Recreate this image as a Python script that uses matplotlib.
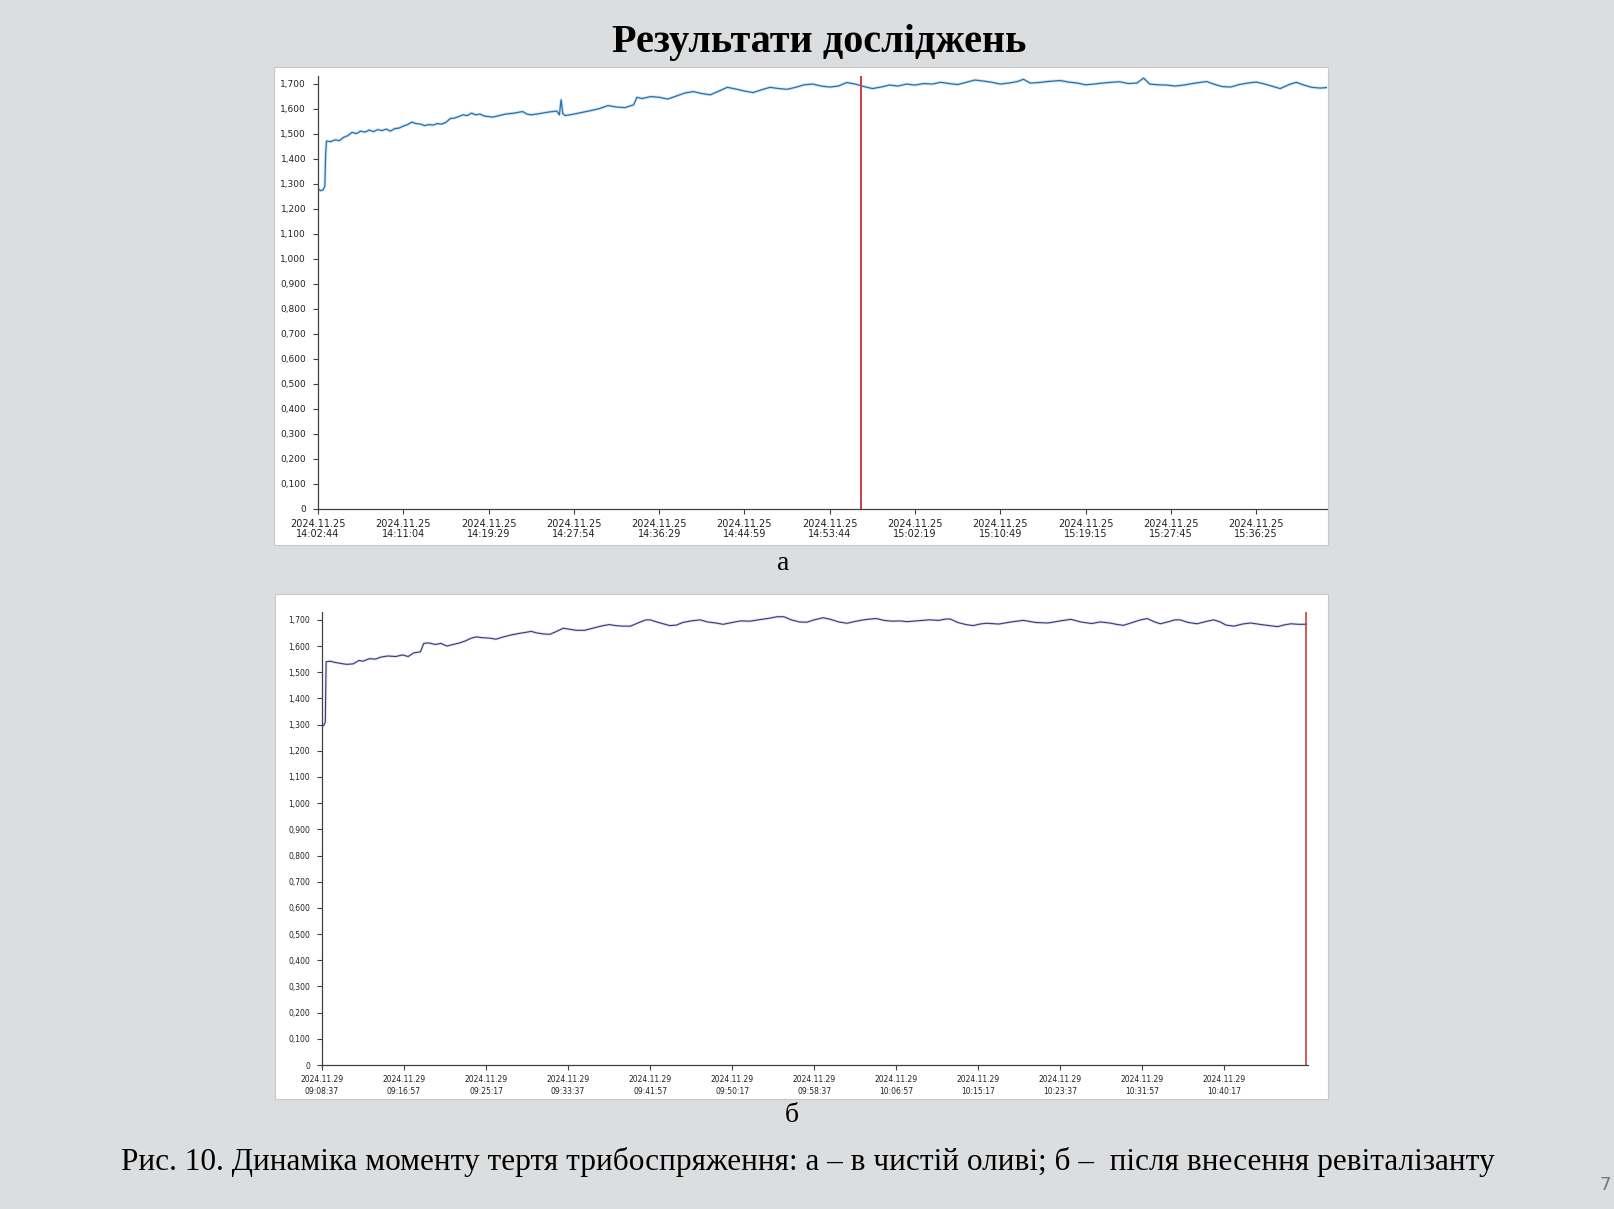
import matplotlib
matplotlib.use("Agg")
import matplotlib.pyplot as plt
from matplotlib.patches import Rectangle
from matplotlib.ticker import FuncFormatter

# --- data (x in tick-step units, y = friction moment) ---
top_x = [0.00, 0.03, 0.06, 0.08, 0.09, 0.10, 0.15, 0.20, 0.25, 0.30, 0.35, 0.40, 0.45, 0.50, 0.55,
         0.60, 0.65, 0.70, 0.75, 0.80, 0.85, 0.90, 0.95, 1.00, 1.05, 1.10, 1.15, 1.20, 1.25, 1.30,
         1.35, 1.40, 1.45, 1.50, 1.55, 1.60, 1.65, 1.70, 1.75, 1.80, 1.85, 1.90, 1.95, 2.00, 2.05,
         2.10, 2.20, 2.30, 2.40, 2.45, 2.50, 2.60, 2.70, 2.80, 2.83, 2.85, 2.87, 2.90, 3.00, 3.10,
         3.20, 3.30, 3.40, 3.50, 3.60, 3.70, 3.74, 3.80, 3.90, 4.00, 4.10, 4.20, 4.30, 4.40, 4.50,
         4.60, 4.70, 4.80, 4.90, 5.00, 5.10, 5.20, 5.30, 5.40, 5.50, 5.60, 5.70, 5.80, 5.90, 6.00,
         6.10, 6.20, 6.30, 6.40, 6.50, 6.60, 6.70, 6.80, 6.90, 7.00, 7.10, 7.20, 7.30, 7.40, 7.50,
         7.60, 7.70, 7.80, 7.90, 8.00, 8.10, 8.20, 8.27, 8.35, 8.45, 8.55, 8.70, 8.80, 8.90, 9.00,
         9.10, 9.20, 9.30, 9.40, 9.50, 9.60, 9.68, 9.75, 9.85, 9.95, 10.05, 10.15, 10.25, 10.35,
         10.42, 10.50, 10.60, 10.70, 10.80, 10.90, 11.00, 11.10, 11.20, 11.28, 11.40, 11.47, 11.55,
         11.65, 11.75, 11.83]
top_y = [1.280, 1.272, 1.275, 1.290, 1.420, 1.470, 1.468, 1.475, 1.472, 1.485, 1.492, 1.505, 1.500,
         1.510, 1.506, 1.514, 1.508, 1.516, 1.512, 1.518, 1.510, 1.520, 1.522, 1.530, 1.536, 1.546,
         1.540, 1.538, 1.532, 1.536, 1.534, 1.540, 1.538, 1.545, 1.560, 1.562, 1.568, 1.575, 1.572,
         1.582, 1.575, 1.578, 1.570, 1.568, 1.566, 1.570, 1.578, 1.582, 1.588, 1.578, 1.575, 1.580,
         1.586, 1.590, 1.575, 1.635, 1.580, 1.572, 1.578, 1.585, 1.592, 1.600, 1.612, 1.606, 1.604,
         1.615, 1.645, 1.640, 1.648, 1.645, 1.638, 1.650, 1.662, 1.668, 1.660, 1.655, 1.670, 1.685,
         1.678, 1.670, 1.664, 1.675, 1.685, 1.680, 1.677, 1.685, 1.695, 1.698, 1.690, 1.686, 1.690,
         1.704, 1.698, 1.688, 1.680, 1.686, 1.694, 1.690, 1.698, 1.694, 1.700, 1.698, 1.705, 1.700,
         1.696, 1.705, 1.714, 1.710, 1.705, 1.698, 1.702, 1.708, 1.717, 1.702, 1.704, 1.708, 1.712,
         1.706, 1.702, 1.695, 1.698, 1.702, 1.705, 1.707, 1.700, 1.702, 1.722, 1.698, 1.695, 1.694,
         1.690, 1.694, 1.700, 1.705, 1.708, 1.698, 1.688, 1.686, 1.696, 1.702, 1.706, 1.698, 1.688,
         1.680, 1.698, 1.705, 1.695, 1.685, 1.682, 1.684]

bot_x = [0.00, 0.02, 0.04, 0.05, 0.10, 0.15, 0.22, 0.30, 0.38, 0.45, 0.50, 0.58, 0.65, 0.72, 0.80,
         0.90, 0.98, 1.05, 1.12, 1.20, 1.24, 1.30, 1.38, 1.45, 1.52, 1.60, 1.68, 1.75, 1.82, 1.88,
         1.95, 2.05, 2.12, 2.20, 2.30, 2.40, 2.48, 2.55, 2.62, 2.70, 2.78, 2.86, 2.94, 3.02, 3.10,
         3.20, 3.30, 3.40, 3.50, 3.58, 3.66, 3.76, 3.85, 3.95, 4.00, 4.08, 4.16, 4.24, 4.32, 4.40,
         4.50, 4.61, 4.70, 4.80, 4.89, 5.00, 5.10, 5.22, 5.32, 5.45, 5.55, 5.63, 5.72, 5.82, 5.91,
         6.00, 6.11, 6.20, 6.30, 6.40, 6.50, 6.60, 6.68, 6.76, 6.85, 6.95, 7.05, 7.13, 7.25, 7.40,
         7.52, 7.60, 7.66, 7.75, 7.85, 7.94, 8.02, 8.10, 8.25, 8.40, 8.55, 8.70, 8.85, 9.00, 9.13,
         9.25, 9.38, 9.49, 9.60, 9.70, 9.77, 9.88, 9.98, 10.06, 10.15, 10.22, 10.32, 10.40, 10.46,
         10.56, 10.67, 10.78, 10.87, 10.95, 11.02, 11.12, 11.22, 11.32, 11.45, 11.55, 11.65, 11.72,
         11.81, 11.90, 12.00]
bot_y = [1.300, 1.296, 1.310, 1.540, 1.542, 1.538, 1.534, 1.530, 1.532, 1.545, 1.542, 1.552, 1.550,
         1.558, 1.562, 1.560, 1.566, 1.560, 1.574, 1.578, 1.610, 1.612, 1.606, 1.610, 1.600, 1.606,
         1.612, 1.620, 1.630, 1.635, 1.632, 1.630, 1.626, 1.634, 1.642, 1.648, 1.652, 1.656, 1.650,
         1.646, 1.645, 1.656, 1.668, 1.664, 1.660, 1.660, 1.668, 1.676, 1.682, 1.678, 1.676, 1.676,
         1.688, 1.700, 1.700, 1.692, 1.685, 1.678, 1.680, 1.690, 1.696, 1.700, 1.692, 1.688, 1.683,
         1.690, 1.696, 1.695, 1.700, 1.706, 1.712, 1.712, 1.700, 1.692, 1.691, 1.700, 1.708, 1.702,
         1.692, 1.687, 1.694, 1.700, 1.703, 1.705, 1.698, 1.695, 1.696, 1.693, 1.696, 1.700, 1.698,
         1.703, 1.703, 1.690, 1.682, 1.678, 1.684, 1.687, 1.684, 1.692, 1.698, 1.690, 1.688, 1.696,
         1.702, 1.692, 1.686, 1.692, 1.688, 1.682, 1.679, 1.690, 1.700, 1.705, 1.692, 1.685, 1.693,
         1.700, 1.700, 1.690, 1.685, 1.694, 1.700, 1.692, 1.680, 1.676, 1.684, 1.688, 1.682, 1.678,
         1.674, 1.680, 1.685, 1.683, 1.683]

top_times = ["14:02:44", "14:11:04", "14:19:29", "14:27:54", "14:36:29", "14:44:59",
             "14:53:44", "15:02:19", "15:10:49", "15:19:15", "15:27:45", "15:36:25"]
bot_times = ["09:08:37", "09:16:57", "09:25:17", "09:33:37", "09:41:57", "09:50:17",
             "09:58:37", "10:06:57", "10:15:17", "10:23:37", "10:31:57", "10:40:17"]
top_date = "2024.11.25"
bot_date = "2024.11.29"
y_ticks = [i / 10 for i in range(18)]
top_marker = 6.37
bot_marker = 12.0

title = "Результати досліджень"
caption = "Рис. 10. Динаміка моменту тертя трибоспряження: а – в чистій оливі; б –  після внесення ревіталізанту"


def fmt_y(v, pos):
    if abs(v) < 1e-9:
        return "0"
    return ("%.3f" % v).replace(".", ",")


def style_axes(ax, xmax, dates, times, fs_x, fs_y, lsp):
    ax.set_xlim(0, xmax)
    ax.set_ylim(0, 1.73)
    ax.set_facecolor("white")
    for s in ["top", "right"]:
        ax.spines[s].set_visible(False)
    for s in ["left", "bottom"]:
        ax.spines[s].set_color("#404040")
        ax.spines[s].set_linewidth(0.9)
    ax.set_yticks(y_ticks)
    ax.yaxis.set_major_formatter(FuncFormatter(fmt_y))
    ax.set_xticks(range(len(times)))
    ax.set_xticklabels([dates + "\n" + t for t in times], linespacing=lsp)
    ax.tick_params(axis="x", length=3.5, width=0.8, color="#404040", labelsize=fs_x,
                   labelcolor="#222222", pad=4)
    ax.tick_params(axis="y", length=3.5, width=0.8, color="#404040", labelsize=fs_y,
                   labelcolor="#222222", pad=5)


fig = plt.figure(figsize=(16.15, 12.09), dpi=100)
fig.patch.set_facecolor("#dcdddf")

# white panels behind the two charts
fig.add_artist(Rectangle((0.1697, 0.5492), 0.6526, 0.3954, transform=fig.transFigure,
                         facecolor="white", edgecolor="#c8c8c8", lw=0.8, zorder=0))
fig.add_artist(Rectangle((0.1703, 0.0910), 0.6520, 0.4177, transform=fig.transFigure,
                         facecolor="white", edgecolor="#c8c8c8", lw=0.8, zorder=0))

ax1 = fig.add_axes([0.1969, 0.5790, 0.6248, 0.3581])
ax1.plot(top_x, top_y, color="#b5d5ee", lw=2.2, alpha=0.6)
ax1.plot(top_x, top_y, color="#2a70ad", lw=0.9)
ax1.axvline(top_marker, color="#c94040", lw=1.4)
style_axes(ax1, 11.83, top_date, top_times, 7, 6.5, 1.0)

ax2 = fig.add_axes([0.1994, 0.1191, 0.6105, 0.3747])
ax2.plot(bot_x, bot_y, color="#c0c3de", lw=2.0, alpha=0.5)
ax2.plot(bot_x, bot_y, color="#363a78", lw=0.8)
ax2.axvline(bot_marker, color="#c94040", lw=1.2)
style_axes(ax2, 12.02, bot_date, bot_times, 5.5, 5.5, 1.35)

fig.text(0.507, 0.965, title, ha="center", va="center", fontsize=29, fontweight="bold",
         family="Liberation Serif", color="black")
fig.text(0.485, 0.5335, "а", ha="center", va="center", fontsize=20, family="Liberation Serif")
fig.text(0.490, 0.0775, "б", ha="center", va="center", fontsize=20, family="Liberation Serif")
fig.text(0.500, 0.039, caption, ha="center", va="center", fontsize=22.5,
         family="Liberation Serif", color="black")
fig.text(0.994, 0.020, "7", ha="center", va="center", fontsize=13, color="#777777",
         family="DejaVu Sans")

plt.savefig("out.png", dpi=100, facecolor=fig.get_facecolor())
